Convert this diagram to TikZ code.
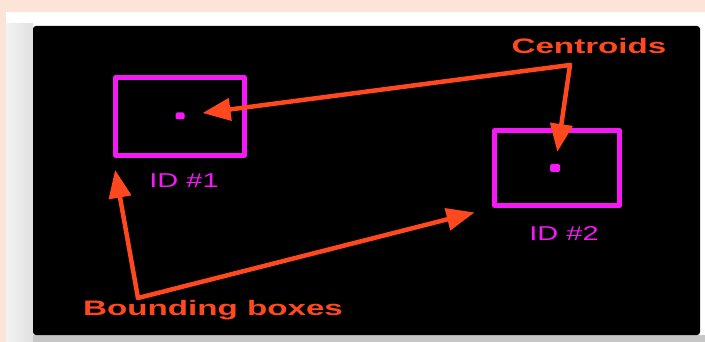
\documentclass[tikz,border=0pt]{standalone}
\usepackage{fontspec}
\setmainfont{Liberation Sans}
\usetikzlibrary{arrows.meta}
\definecolor{peach}{RGB}{252,228,216}
\definecolor{hot}{RGB}{255,72,30}
\definecolor{mag}{RGB}{245,25,245}

\begin{document}
\begin{tikzpicture}[x=1pt,y=-1pt,line join=round,
  bbox/.style={draw=mag,line width=5pt,minimum width=129pt,minimum height=78pt,inner sep=0pt},
  cdot/.style={fill=mag,rounded corners=1.5pt,minimum width=9pt,minimum height=7pt,inner sep=0pt},
  idlbl/.style={text=mag,font=\fontsize{20}{24}\selectfont,xscale=1.45},
  tagtext/.style={text=hot,font=\bfseries\fontsize{21}{25}\selectfont,xscale=1.58},
  arr/.style={hot,line width=4.5pt,line cap=round,-{Triangle[length=28pt,width=22pt]}}]
  % frame and dark panel
  \fill[peach] (0,0) rectangle (705,342);
  \fill[white] (6,12) rectangle (705,342);
  \shade[left color=gray!10,right color=gray!24] (6,24) rectangle (33,342);
  \fill[gray!45] (33,335) rectangle (705,342);
  \fill[black,rounded corners=3pt] (33,26) rectangle (700,335);
  \useasboundingbox (0,0) rectangle (705,342);
  % tracked objects
  \node[bbox] (box1) at (180,116.5) {};
  \node[cdot] (c1) at (180,116) {};
  \node[bbox,minimum width=125pt,minimum height=75pt] (box2) at (557,168) {};
  \node[cdot,minimum width=10pt,minimum height=8pt] (c2) at (555,168) {};
  \node[idlbl] (id1) at (184,181) {ID \#1};
  \node[idlbl] (id2) at (564,234) {ID \#2};
  % callouts
  \node[tagtext] (cent) at (589,46) {Centroids};
  \node[tagtext] (bbs) at (213,310) {Bounding boxes};
  \coordinate (capex) at (570,65);
  \coordinate (bapex) at (138,298);
  \draw[arr,shorten >=18pt] (capex) -- (c1);
  \draw[arr,shorten >=12pt] (capex) -- (c2);
  \draw[arr,shorten >=12pt] (bapex) -- (box1.south west);
  \draw[arr,shorten >=18pt] (bapex) -- (box2.south west);
\end{tikzpicture}
\end{document}
